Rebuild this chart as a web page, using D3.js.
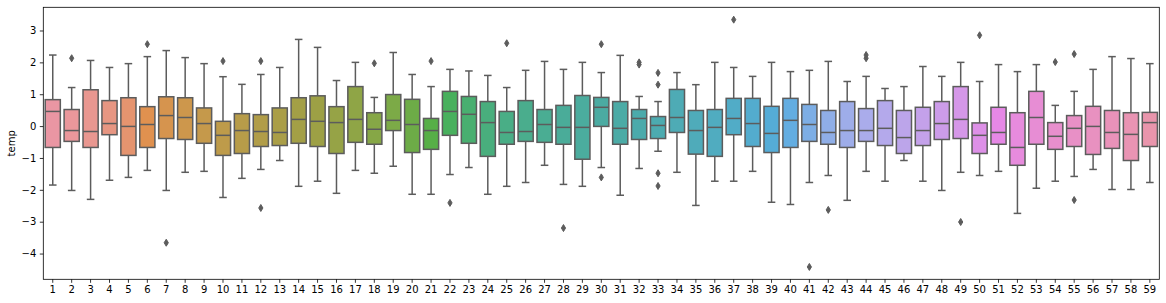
<!DOCTYPE html>
<html>
<head>
<meta charset="utf-8">
<script src="https://cdn.jsdelivr.net/npm/d3@7"></script>
<style>
  body { margin: 0; background: #fff; }
  svg { display: block; font-family: "DejaVu Sans", sans-serif; }
</style>
</head>
<body>
<script>
// categories 1..59
var categories = ["1","2","3","4","5","6","7","8","9","10","11","12","13","14","15","16","17","18","19","20",
  "21","22","23","24","25","26","27","28","29","30","31","32","33","34","35","36","37","38","39","40",
  "41","42","43","44","45","46","47","48","49","50","51","52","53","54","55","56","57","58","59"];

var whiskerHigh = [2.23,1.21,2.06,1.84,1.96,2.18,2.37,2.15,1.96,1.55,1.31,1.62,1.84,2.72,2.47,1.43,2.00,0.90,2.31,1.62,
  1.24,1.78,1.73,1.59,1.21,1.75,2.03,1.78,2.00,1.68,2.22,0.93,0.77,1.68,1.30,2.00,1.84,1.56,2.00,1.71,
  1.75,2.03,1.40,1.56,1.18,1.24,1.87,1.56,2.00,1.40,1.93,1.71,1.93,0.65,1.09,1.78,2.18,2.12,1.96];
var q3 = [0.83,0.52,1.14,0.80,0.89,0.61,0.92,0.89,0.57,0.15,0.39,0.36,0.57,0.89,0.95,0.61,1.24,0.42,0.99,0.84,
  0.24,1.09,0.93,0.77,0.46,0.80,0.52,0.65,0.96,0.90,0.77,0.52,0.30,1.15,0.49,0.52,0.87,0.87,0.62,0.87,
  0.68,0.49,0.77,0.55,0.80,0.49,0.59,0.77,1.24,0.10,0.59,0.42,1.09,0.11,0.33,0.62,0.49,0.42,0.43];
var medians = [0.46,-0.14,-0.17,0.08,-0.01,0.05,0.33,0.27,0.08,-0.29,-0.14,-0.17,-0.20,0.21,0.15,0.11,0.21,-0.10,0.18,0.05,
  -0.14,0.46,0.37,0.11,-0.20,-0.17,0.05,-0.04,-0.04,0.59,-0.07,0.24,0.02,0.27,-0.14,-0.04,0.24,0.08,-0.23,0.18,
  0.05,-0.20,-0.14,-0.14,-0.07,-0.36,-0.14,0.08,0.21,-0.29,-0.20,-0.67,0.27,-0.32,-0.07,-0.01,-0.20,-0.26,0.11];
var q1 = [-0.67,-0.48,-0.67,-0.27,-0.92,-0.67,-0.39,-0.42,-0.54,-0.92,-0.86,-0.64,-0.61,-0.54,-0.64,-0.86,-0.51,-0.57,-0.14,-0.83,
  -0.73,-0.29,-0.54,-0.95,-0.57,-0.48,-0.51,-0.57,-1.04,-0.01,-0.57,-0.42,-0.39,-0.20,-0.88,-0.95,-0.27,-0.64,-0.83,-0.67,
  -0.48,-0.57,-0.67,-0.48,-0.61,-0.86,-0.61,-0.42,-0.39,-0.86,-0.57,-1.23,-0.57,-0.73,-0.64,-0.89,-0.70,-1.08,-0.64];
var whiskerLow = [-1.85,-2.02,-2.30,-1.70,-1.61,-1.39,-2.02,-1.45,-1.42,-2.24,-1.64,-1.36,-1.08,-1.89,-1.73,-2.11,-1.39,-1.48,-1.26,-2.14,
  -2.14,-1.52,-1.30,-2.14,-1.89,-1.77,-1.23,-1.83,-1.89,-1.30,-2.17,-1.33,-0.79,-1.45,-2.49,-1.73,-1.73,-1.42,-2.39,-2.46,
  -1.77,-1.55,-2.33,-1.42,-1.73,-1.08,-1.73,-2.02,-1.45,-1.55,-1.42,-2.74,-1.95,-1.73,-1.58,-1.36,-1.99,-1.99,-1.77];

// outliers: category and value
var outlierCats = ["2","6","7","10","12","12","18","21","22","25","28","30","30","32","32","33","33","33","33",
  "37","41","42","44","44","49","50","54","55","55"];
var outlierVals = [2.13,2.57,-3.66,2.04,2.04,-2.57,1.97,2.04,-2.41,2.60,-3.20,2.57,-1.61,2.00,1.93,1.67,1.30,-1.48,-1.88,
  3.34,-4.42,-2.63,2.23,2.13,-3.01,2.85,2.01,2.26,-2.32];

var yTicks = [-4, -3, -2, -1, 0, 1, 2, 3];

var width = 1166, height = 303;
var margin = {left: 43.3, right: 6.7, top: 7.3, bottom: 23.7};

// seaborn-style husl palette (l=.7), desaturated to .75
var M = [[3.240969941904521, -1.537383177570093, -0.498610760293],
         [-0.96924363628087, 1.87596750150772, 0.041555057407175],
         [0.055630079696993, -0.20397695888897, 1.056971514242878]];
var kappa = 903.2962962, epsilon = 0.0088564516;
function maxChroma(L, H) {
  var hrad = H / 360 * 2 * Math.PI;
  var sub1 = Math.pow(L + 16, 3) / 1560896;
  var sub2 = sub1 > epsilon ? sub1 : L / kappa;
  var best = Infinity;
  M.forEach(function(r) {
    [0, 1].forEach(function(t) {
      var top1 = (284517 * r[0] - 94839 * r[2]) * sub2;
      var top2 = (838422 * r[2] + 769860 * r[1] + 731718 * r[0]) * L * sub2 - 769860 * t * L;
      var bottom = (632260 * r[2] - 126452 * r[1]) * sub2 + 126452 * t;
      var m1 = top1 / bottom, b1 = top2 / bottom;
      var len = b1 / (Math.sin(hrad) - m1 * Math.cos(hrad));
      if (len >= 0) best = Math.min(best, len);
    });
  });
  return best;
}
function huslToRgb(H, S, L) {
  var C = maxChroma(L, H) / 100 * S;
  var hr = H / 360 * 2 * Math.PI;
  var U = C * Math.cos(hr), V = C * Math.sin(hr);
  var refU = 0.19783983, refV = 0.46833630;
  var Y = L > 8 ? Math.pow((L + 16) / 116, 3) : L / kappa;
  var varU = U / (13 * L) + refU, varV = V / (13 * L) + refV;
  var X = -(9 * Y * varU) / ((varU - 4) * varV - varU * varV);
  var Z = (9 * Y - 15 * varV * Y - varV * X) / (3 * varV);
  return M.map(function(r) {
    var c = r[0] * X + r[1] * Y + r[2] * Z;
    c = c <= 0.0031308 ? 12.92 * c : 1.055 * Math.pow(c, 1 / 2.4) - 0.055;
    return Math.max(0, Math.min(1, c));
  });
}
var n = categories.length;
var colors = categories.map(function(d, i) {
  var h = ((i / n) + 0.01) % 1 * 359;
  var rgb = huslToRgb(h, 0.9 * 99, 0.7 * 99);
  var c = d3.hsl(d3.rgb(rgb[0] * 255, rgb[1] * 255, rgb[2] * 255));
  c.s *= 0.75;
  return c.formatHex();
});
var gray = "#5c5c5c";

var svg = d3.select("body").append("svg")
  .attr("width", width)
  .attr("height", height);

var x = d3.scaleBand()
  .domain(categories)
  .range([margin.left, width - margin.right])
  .padding(0);

var allVals = whiskerHigh.concat(whiskerLow, outlierVals);
var lo = d3.min(allVals), hi = d3.max(allVals), pad = (hi - lo) * 0.05;
var y = d3.scaleLinear()
  .domain([lo - pad, hi + pad])
  .range([height - margin.bottom, margin.top]);

var bw = x.bandwidth() * 0.8;
var lw = 1.5;

var boxes = svg.selectAll("g.box")
  .data(categories)
  .enter()
  .append("g")
  .attr("class", "box")
  .attr("transform", function(d) { return "translate(" + (x(d) + x.bandwidth() / 2) + ",0)"; });

// whiskers
boxes.append("line")
  .attr("y1", function(d, i) { return y(q3[i]); })
  .attr("y2", function(d, i) { return y(whiskerHigh[i]); })
  .attr("stroke", gray).attr("stroke-width", lw);
boxes.append("line")
  .attr("y1", function(d, i) { return y(q1[i]); })
  .attr("y2", function(d, i) { return y(whiskerLow[i]); })
  .attr("stroke", gray).attr("stroke-width", lw);
// caps
boxes.append("line")
  .attr("x1", -bw / 4).attr("x2", bw / 4)
  .attr("y1", function(d, i) { return y(whiskerHigh[i]); })
  .attr("y2", function(d, i) { return y(whiskerHigh[i]); })
  .attr("stroke", gray).attr("stroke-width", lw);
boxes.append("line")
  .attr("x1", -bw / 4).attr("x2", bw / 4)
  .attr("y1", function(d, i) { return y(whiskerLow[i]); })
  .attr("y2", function(d, i) { return y(whiskerLow[i]); })
  .attr("stroke", gray).attr("stroke-width", lw);
// box
boxes.append("rect")
  .attr("x", -bw / 2)
  .attr("width", bw)
  .attr("y", function(d, i) { return y(q3[i]); })
  .attr("height", function(d, i) { return y(q1[i]) - y(q3[i]); })
  .attr("fill", function(d, i) { return colors[i]; })
  .attr("stroke", gray).attr("stroke-width", lw);
// median
boxes.append("line")
  .attr("x1", -bw / 2).attr("x2", bw / 2)
  .attr("y1", function(d, i) { return y(medians[i]); })
  .attr("y2", function(d, i) { return y(medians[i]); })
  .attr("stroke", gray).attr("stroke-width", lw);

// outliers (thin diamonds)
svg.selectAll("path.flier")
  .data(outlierVals)
  .enter()
  .append("path")
  .attr("class", "flier")
  .attr("d", "M0,-3.5L2.1,0L0,3.5L-2.1,0Z")
  .attr("transform", function(d, i) {
    return "translate(" + (x(outlierCats[i]) + x.bandwidth() / 2) + "," + y(d) + ")";
  })
  .attr("fill", gray)
  .attr("stroke", gray)
  .attr("stroke-width", 1);

// axes
var xAxis = svg.append("g")
  .attr("transform", "translate(0," + (height - margin.bottom) + ")")
  .call(d3.axisBottom(x).tickSizeInner(3.5).tickSizeOuter(0).tickPadding(3.5));
var yAxis = svg.append("g")
  .attr("transform", "translate(" + margin.left + ",0)")
  .call(d3.axisLeft(y).tickValues(yTicks).tickSizeInner(3.5).tickSizeOuter(0).tickPadding(3.5));

[xAxis, yAxis].forEach(function(a) {
  a.select(".domain").remove();
  a.selectAll("line").attr("stroke", "#000").attr("stroke-width", 0.8);
  a.selectAll("text").attr("fill", "#000").style("font-size", "10px")
    .style("font-family", "'DejaVu Sans', sans-serif");
});

// frame
svg.append("rect")
  .attr("x", margin.left)
  .attr("y", margin.top)
  .attr("width", width - margin.left - margin.right)
  .attr("height", height - margin.top - margin.bottom)
  .attr("fill", "none")
  .attr("stroke", "#000")
  .attr("stroke-width", 0.8);

svg.append("text")
  .attr("transform", "translate(15," + ((margin.top + height - margin.bottom) / 2) + ") rotate(-90)")
  .attr("text-anchor", "middle")
  .style("font-size", "10px")
  .text("temp");
</script>
</body>
</html>
